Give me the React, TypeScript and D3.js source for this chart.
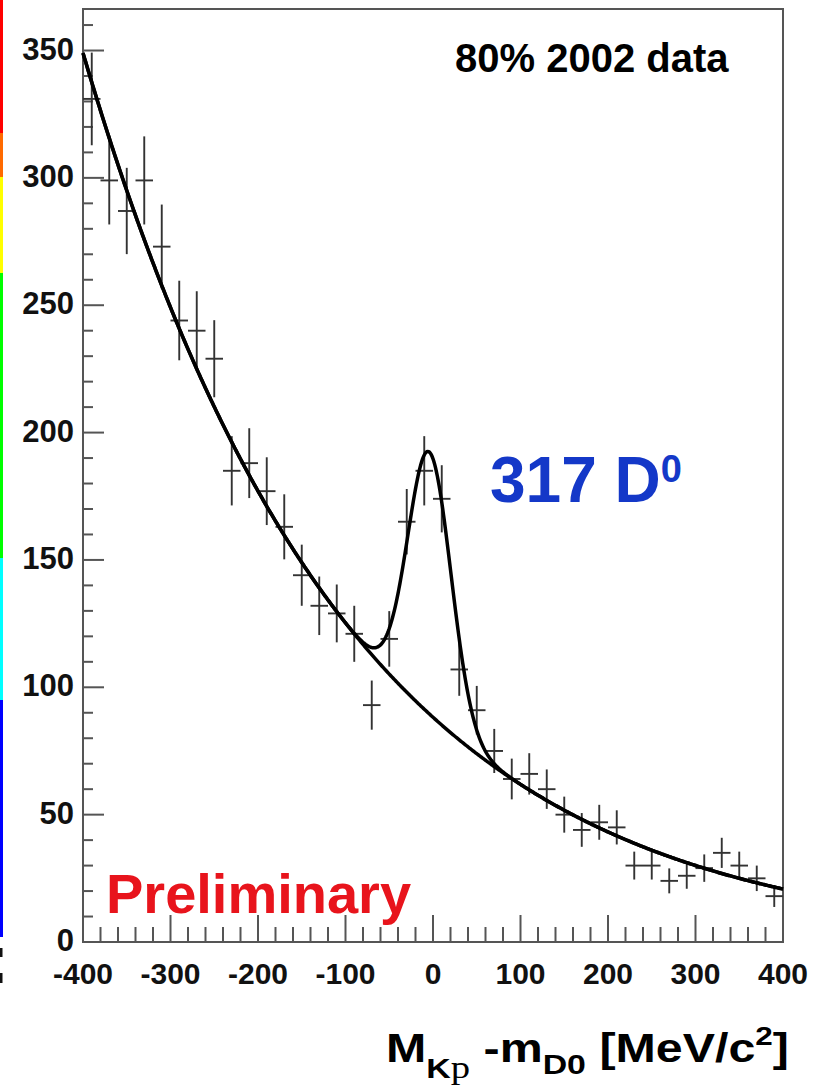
import React from "react";
import * as d3 from "d3";

// Histogram: K p invariant mass minus D0 mass, 20 MeV bins
const binCenters = [
  -390, -370, -350, -330, -310, -290, -270, -250, -230, -210,
  -190, -170, -150, -130, -110, -90, -70, -50, -30, -10,
  10, 30, 50, 70, 90, 110, 130, 150, 170, 190,
  210, 230, 250, 270, 290, 310, 330, 350, 370, 390,
];
const counts = [
  331, 299, 287, 299, 273, 244, 240, 229, 185, 188,
  177, 163, 144, 132, 129, 121, 93, 119, 165, 185,
  174, 107, 91, 75, 64, 66, 60, 50, 44, 47,
  45, 30, 30, 24, 26, 29, 35, 30, 25, 18,
];
const binWidth = 20;

// Fit: background exp(a + b x + c x^2) plus a Gaussian D0 signal
const bgParams = [4.48, -0.003526, -2.2e-7];
const signalYield = 317;
const signalMean = -4;
const signalSigma = 24.6;

const yTickLabels = [0, 50, 100, 150, 200, 250, 300, 350];
const xTickLabels = [-400, -300, -200, -100, 0, 100, 200, 300, 400];

// colour strip along the left edge of the page
const stripStops = [
  { y0: 0, y1: 133, color: "#ff0000" },
  { y0: 133, y1: 177, color: "#ff6a00" },
  { y0: 177, y1: 273, color: "#ffff00" },
  { y0: 273, y1: 558, color: "#00ff00" },
  { y0: 558, y1: 700, color: "#00ffff" },
  { y0: 700, y1: 937, color: "#0000ff" },
];

const W = 827;
const H = 1092;
const left = 83;
const right = 783;
const top = 9;
const bottom = 942;
const font = "'Liberation Sans', Arial, Helvetica, sans-serif";

export default function App() {
  const x = d3.scaleLinear().domain([-400, 400]).range([left, right]);
  const y = d3.scaleLinear().domain([0, 366.3]).range([bottom, top]);

  const bg = (m: number) =>
    Math.exp(bgParams[0] + bgParams[1] * m + bgParams[2] * m * m);
  const amp = (signalYield * binWidth) / (signalSigma * Math.sqrt(2 * Math.PI));
  const total = (m: number) =>
    bg(m) + amp * Math.exp(-((m - signalMean) ** 2) / (2 * signalSigma ** 2));

  const grid = d3.range(-400, 400.01, 1);
  const bgPath =
    d3
      .line<number>()
      .x((m) => x(m))
      .y((m) => y(bg(m)))(grid) || "";
  const totPath =
    d3
      .line<number>()
      .x((m) => x(m))
      .y((m) => y(total(m)))(grid) || "";

  const yMinor = d3.range(0, 361, 10);
  const xMinor = d3.range(-400, 401, 20);

  return (
    <svg
      width={W}
      height={H}
      style={{ position: "absolute", left: 0, top: 0, background: "#fff" }}
    >
      <rect x={0} y={0} width={W} height={H} fill="#fff" />
      {stripStops.map((s, i) => (
        <rect key={i} x={0} y={s.y0} width={3} height={s.y1 - s.y0} fill={s.color} />
      ))}
      {/* edge fragment at the lower left */}
      <rect x={0} y={948} width={2.5} height={9} fill="#111" />
      <rect x={0} y={973} width={2.5} height={10} fill="#111" />

      {/* frame */}
      <rect
        x={left}
        y={top}
        width={right - left}
        height={bottom - top}
        fill="none"
        stroke="#555"
        strokeWidth={2}
      />

      {/* y ticks */}
      {yMinor.map((v) => (
        <line
          key={"yt" + v}
          x1={left}
          x2={left + (v % 50 === 0 ? 21 : 10)}
          y1={y(v)}
          y2={y(v)}
          stroke="#555"
          strokeWidth={2}
        />
      ))}
      {/* x ticks */}
      {xMinor.map((v) => (
        <line
          key={"xt" + v}
          x1={x(v)}
          x2={x(v)}
          y1={bottom}
          y2={bottom - (v % 100 === 0 ? 27 : 15)}
          stroke="#555"
          strokeWidth={2}
        />
      ))}

      {yTickLabels.map((v) => (
        <text
          key={"yl" + v}
          x={74}
          y={y(v) + 9}
          textAnchor="end"
          fontFamily={font}
          fontWeight="bold"
          fontSize={31}
          fill="#111"
        >
          {v}
        </text>
      ))}
      {xTickLabels.map((v) => (
        <text
          key={"xl" + v}
          x={x(v)}
          y={984}
          textAnchor="middle"
          fontFamily={font}
          fontWeight="bold"
          fontSize={30}
          fill="#111"
        >
          {v}
        </text>
      ))}

      {/* data points with sqrt(N) errors */}
      {binCenters.map((c, i) => {
        const n = counts[i];
        const e = Math.sqrt(n);
        return (
          <g key={"p" + c} stroke="#333" strokeWidth={1.9}>
            <line x1={x(c)} x2={x(c)} y1={y(n - e)} y2={y(n + e)} />
            <line x1={x(c - binWidth / 2)} x2={x(c + binWidth / 2)} y1={y(n)} y2={y(n)} />
          </g>
        );
      })}

      {/* fit curves */}
      <path d={bgPath} fill="none" stroke="#000" strokeWidth={3.5} />
      <path d={totPath} fill="none" stroke="#000" strokeWidth={3.5} />

      <text x={455} y={72} fontFamily={font} fontWeight="bold" fontSize={40} fill="#000">
        80% 2002 data
      </text>

      <text x={490} y={502} fontFamily={font} fontWeight="bold" fontSize={64} fill="#1438c8">
        {signalYield} D
        <tspan fontSize={38} dy={-20}>0</tspan>
      </text>

      <text x={106} y={913} fontFamily={font} fontWeight="bold" fontSize={56} fill="#e8141c">
        Preliminary
      </text>

      <g transform="translate(386,1062) scale(1.21,1)">
        <text x={0} y={0} fontFamily={font} fontWeight="bold" fontSize={40} fill="#000">
          M
          <tspan fontSize={28} dy={16}>K</tspan>
          <tspan fontFamily="'Liberation Serif', 'Times New Roman', serif" fontWeight="normal" fontSize={32}>
            p
          </tspan>
          <tspan fontSize={40} dy={-16}> -m</tspan>
          <tspan fontSize={28} dy={12}>D0</tspan>
          <tspan fontSize={40} dy={-12}> [MeV/c</tspan>
          <tspan fontSize={26} dy={-17}>2</tspan>
          <tspan fontSize={40} dy={17}>]</tspan>
        </text>
      </g>
    </svg>
  );
}
